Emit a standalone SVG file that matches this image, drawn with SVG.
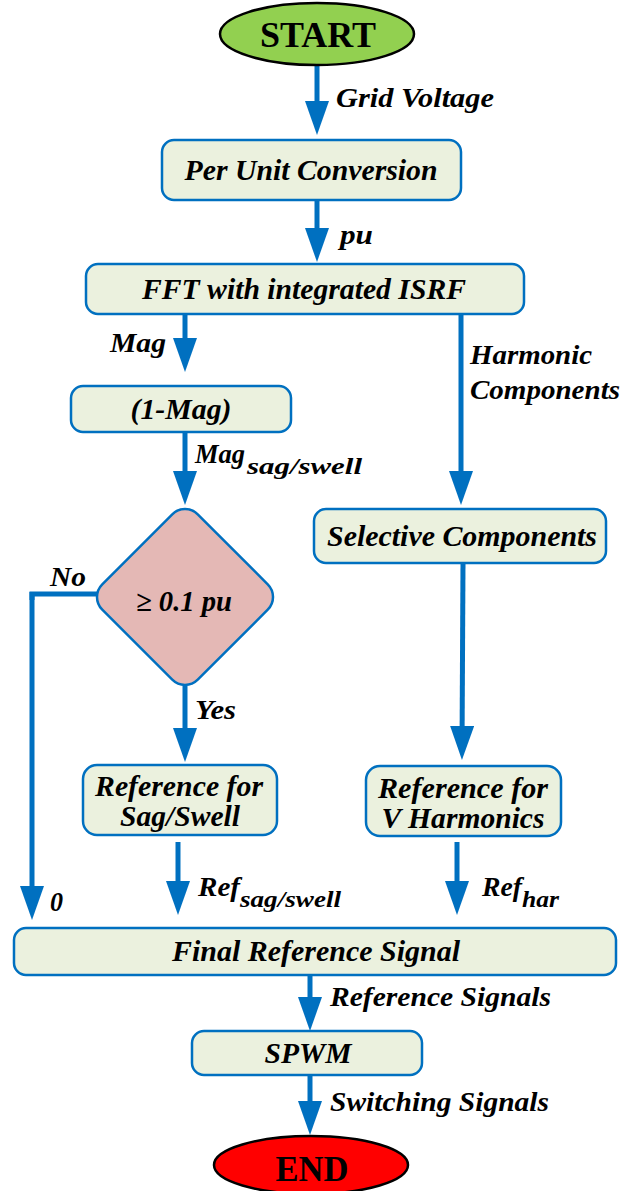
<svg xmlns="http://www.w3.org/2000/svg" width="630" height="1191" viewBox="0 0 630 1191">
  <style>
    .box { fill: #ebf1de; stroke: #0070c0; stroke-width: 2.5; }
    .term { stroke: #000; stroke-width: 2.5; }
    .flow { fill: none; stroke: #0070c0; stroke-width: 5; marker-end: url(#head); }
    .wire { fill: none; stroke: #0070c0; stroke-width: 5; }
    text { font-family: "Liberation Serif", "Times New Roman", serif; font-weight: bold; fill: #000; }
    .it { font-style: italic; }
    .node { font-size: 29px; text-anchor: middle; }
    .lbl { font-size: 27px; }
    .sub { font-size: 24px; }
    .big { font-size: 36px; text-anchor: middle; }
  </style>
  <defs>
    <marker id="head" markerUnits="userSpaceOnUse" viewBox="0 0 34 24" markerWidth="34" markerHeight="24" refX="24" refY="12" orient="auto">
      <path d="M0,0 L34,12 L0,24 Z" fill="#0070c0"/>
    </marker>
  </defs>

  <!-- connectors -->
  <g id="connectors">
    <path class="flow" d="M317,66 L317,125"/>
    <path class="flow" d="M317,200 L317,252"/>
    <path class="flow" d="M185,314 L185,362"/>
    <path class="flow" d="M185,432 L185,495"/>
    <path class="flow" d="M461,314 L461,495"/>
    <path class="flow" d="M463,563 L462,750"/>
    <path class="wire" d="M99,594 L32,594 L32,600"/>
    <path class="flow" d="M32,592 L32,910"/>
    <path class="flow" d="M185,686 L185,752"/>
    <path class="flow" d="M178,842 L178,905"/>
    <path class="flow" d="M457,842 L457,905"/>
    <path class="flow" d="M310,975 L310,1021"/>
    <path class="flow" d="M310,1075 L310,1125"/>
  </g>

  <!-- connector labels -->
  <g id="labels">
    <text class="it lbl" x="336" y="107" textLength="158" lengthAdjust="spacingAndGlyphs">Grid Voltage</text>
    <text class="it lbl" x="340" y="244" textLength="33" lengthAdjust="spacingAndGlyphs">pu</text>
    <text class="it lbl" x="110" y="352" textLength="56" lengthAdjust="spacingAndGlyphs">Mag</text>
    <text class="it lbl" x="470" y="364" textLength="122" lengthAdjust="spacingAndGlyphs">Harmonic</text>
    <text class="it lbl" x="470" y="399" textLength="150" lengthAdjust="spacingAndGlyphs">Components</text>
    <text class="it lbl" x="195" y="463" textLength="50" lengthAdjust="spacingAndGlyphs">Mag</text>
    <text class="it sub" x="247" y="474" textLength="115" lengthAdjust="spacingAndGlyphs">sag/swell</text>
    <text class="it lbl" x="50" y="586" textLength="36" lengthAdjust="spacingAndGlyphs">No</text>
    <text class="it lbl" x="195" y="719" textLength="41" lengthAdjust="spacingAndGlyphs">Yes</text>
    <text class="it lbl" x="50" y="911" textLength="13" lengthAdjust="spacingAndGlyphs">0</text>
    <text class="it lbl" x="198" y="896" textLength="42" lengthAdjust="spacingAndGlyphs">Ref</text>
    <text class="it sub" x="240" y="907" textLength="101" lengthAdjust="spacingAndGlyphs">sag/swell</text>
    <text class="it lbl" x="482" y="896" textLength="40" lengthAdjust="spacingAndGlyphs">Ref</text>
    <text class="it sub" x="522" y="907" textLength="37" lengthAdjust="spacingAndGlyphs">har</text>
    <text class="it lbl" x="330" y="1006" textLength="221" lengthAdjust="spacingAndGlyphs">Reference Signals</text>
    <text class="it lbl" x="330" y="1111" textLength="219" lengthAdjust="spacingAndGlyphs">Switching Signals</text>
  </g>

  <g id="start">
    <ellipse class="term" cx="317" cy="34" rx="97" ry="31" fill="#92d050"/>
    <text class="big" x="318" y="47" textLength="116" lengthAdjust="spacingAndGlyphs">START</text>
  </g>

  <g id="per-unit">
    <rect class="box" x="162" y="140" width="299" height="60" rx="12"/>
    <text class="it node" x="311" y="180" textLength="253" lengthAdjust="spacingAndGlyphs">Per Unit Conversion</text>
  </g>

  <g id="fft">
    <rect class="box" x="86" y="264" width="438" height="50" rx="12"/>
    <text class="it node" x="304" y="299" textLength="324" lengthAdjust="spacingAndGlyphs">FFT with integrated ISRF</text>
  </g>

  <g id="one-minus-mag">
    <rect class="box" x="71" y="386" width="220" height="46" rx="12"/>
    <text class="it node" x="181" y="419" textLength="101" lengthAdjust="spacingAndGlyphs">(1-Mag)</text>
  </g>

  <g id="selective">
    <rect class="box" x="314" y="509" width="292" height="54" rx="12"/>
    <text class="it node" x="462" y="546" textLength="270" lengthAdjust="spacingAndGlyphs">Selective Components</text>
  </g>

  <g id="decision">
    <rect x="-67.5" y="-67.5" width="135" height="135" rx="18" fill="#e4b8b5" stroke="#0070c0" stroke-width="2.5" transform="translate(185,597) rotate(45)"/>
    <text class="it node" x="184" y="611" textLength="96" lengthAdjust="spacingAndGlyphs">≥ 0.1 pu</text>
  </g>

  <g id="ref-sag-swell">
    <rect class="box" x="83" y="765" width="194" height="70" rx="14"/>
    <text class="it node" x="179" y="796" textLength="168" lengthAdjust="spacingAndGlyphs">Reference for</text>
    <text class="it node" x="180" y="826" textLength="120" lengthAdjust="spacingAndGlyphs">Sag/Swell</text>
  </g>

  <g id="ref-harmonics">
    <rect class="box" x="366" y="766" width="195" height="70" rx="14"/>
    <text class="it node" x="463" y="798" textLength="170" lengthAdjust="spacingAndGlyphs">Reference for</text>
    <text class="it node" x="463" y="828" textLength="163" lengthAdjust="spacingAndGlyphs">V Harmonics</text>
  </g>

  <g id="final-ref">
    <rect class="box" x="14" y="928" width="602" height="47" rx="12"/>
    <text class="it node" x="316" y="961" textLength="288" lengthAdjust="spacingAndGlyphs">Final Reference Signal</text>
  </g>

  <g id="spwm">
    <rect class="box" x="192" y="1031" width="230" height="44" rx="12"/>
    <text class="it node" x="308" y="1063" textLength="87" lengthAdjust="spacingAndGlyphs">SPWM</text>
  </g>

  <g id="end">
    <ellipse class="term" cx="311" cy="1165" rx="97" ry="29" fill="#ff0000"/>
    <text class="big" x="312" y="1181" textLength="73" lengthAdjust="spacingAndGlyphs">END</text>
  </g>
</svg>
